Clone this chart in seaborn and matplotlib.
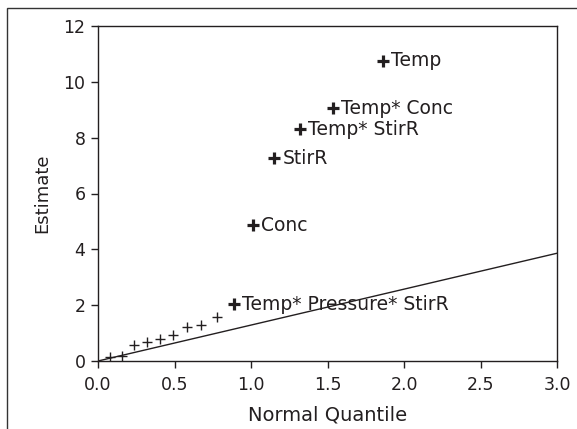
import matplotlib
matplotlib.use("Agg")
import matplotlib.pyplot as plt
import seaborn as sns
import pandas as pd
from matplotlib.patches import Rectangle

# Half-normal plot data
quantile_small = [0.078, 0.157, 0.237, 0.319, 0.402, 0.489, 0.579, 0.674, 0.776]
estimate_small = [0.14, 0.18, 0.57, 0.69, 0.79, 0.93, 1.23, 1.29, 1.59]

labels = ["Temp* Pressure* StirR", "Conc", "StirR", "Temp* StirR", "Temp* Conc", "Temp"]
quantile_big = [0.887, 1.010, 1.150, 1.318, 1.534, 1.863]
estimate_big = [2.03, 4.87, 7.27, 8.30, 9.06, 10.76]

line_x = [0.0, 3.0]
line_y = [0.0, 3.86]

sns.set_theme(style="ticks")
plt.rcParams["font.family"] = ["DejaVu Sans"]
ink = "#231f20"

fig = plt.figure(figsize=(5.77, 4.29), dpi=100)
ax = fig.add_axes([98 / 577, 1 - 361 / 429, (557 - 98) / 577, (361 - 26) / 429])

df_small = pd.DataFrame({"q": quantile_small, "e": estimate_small})
df_big = pd.DataFrame({"q": quantile_big, "e": estimate_big, "lab": labels})

sns.lineplot(x=line_x, y=line_y, ax=ax, color=ink, lw=1.0)
sns.scatterplot(data=df_small, x="q", y="e", ax=ax, marker="+", color=ink,
                s=45, linewidth=1.0)
sns.scatterplot(data=df_big, x="q", y="e", ax=ax, marker="+", color=ink,
                s=65, linewidth=2.3)
for q, e, lab in zip(quantile_big, estimate_big, labels):
    ax.text(q + 0.055, e, lab, fontsize=13.5, color=ink, va="center", ha="left")

ax.set_xlim(0, 3.0)
ax.set_ylim(0, 12)
ax.set_xticks([0.0, 0.5, 1.0, 1.5, 2.0, 2.5, 3.0])
ax.set_xticklabels(["0.0", "0.5", "1.0", "1.5", "2.0", "2.5", "3.0"])
ax.set_yticks([0, 2, 4, 6, 8, 10, 12])
ax.set_xlabel("Normal Quantile", fontsize=14, color=ink, labelpad=8)
ax.set_ylabel("Estimate", fontsize=13, color=ink, labelpad=9)
ax.tick_params(axis="both", labelsize=12.5, colors=ink, direction="out",
               length=5, width=1.0)
ax.tick_params(axis="x", pad=6)
ax.tick_params(axis="y", pad=4)
for sp in ax.spines.values():
    sp.set_visible(True)
    sp.set_color(ink)
    sp.set_linewidth(1.0)

# outer frame (top and left visible)
fig.patches.append(Rectangle((7 / 577, -0.2), 1.2, (1 - 8 / 429) + 0.2,
                             transform=fig.transFigure, fill=False,
                             edgecolor="#333333", linewidth=1.0))

fig.savefig("out.png", dpi=100)
